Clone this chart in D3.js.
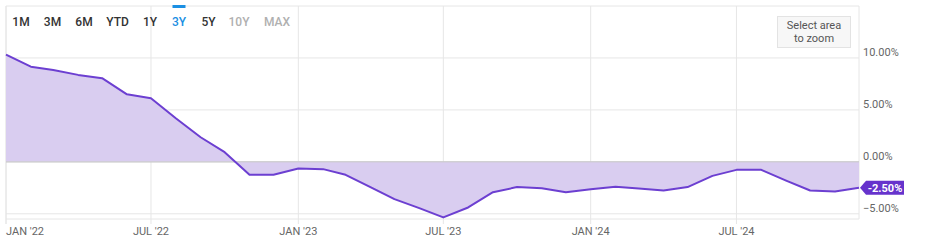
<!DOCTYPE html>
<html>
<head>
<meta charset="utf-8">
<script src="https://cdn.jsdelivr.net/npm/d3@7"></script>
<style>
  body { margin: 0; background: #fff; }
  svg { font-family: Roboto, "Noto Sans", sans-serif; }
</style>
</head>
<body>
<div id="chart"></div>
<script>
// monthly values, Jan 2022 .. Dec 2024
const months = [
    '2022-01','2022-02','2022-03','2022-04','2022-05','2022-06',
    '2022-07','2022-08','2022-09','2022-10','2022-11','2022-12',
    '2023-01','2023-02','2023-03','2023-04','2023-05','2023-06',
    '2023-07','2023-08','2023-09','2023-10','2023-11','2023-12',
    '2024-01','2024-02','2024-03','2024-04','2024-05','2024-06',
    '2024-07','2024-08','2024-09','2024-10','2024-11','2024-12'
];
const values = [
    10.32, 9.16, 8.85, 8.37, 8.05, 6.5,
    6.12, 4.2, 2.37, 0.93, -1.25, -1.25,
    -0.64, -0.7, -1.25, -2.43, -3.59, -4.45,
    -5.35, -4.39, -2.92, -2.43, -2.53, -2.92,
    -2.63, -2.4, -2.56, -2.76, -2.43, -1.35,
    -0.77, -0.77, -1.8, -2.76, -2.86, -2.5
];
const yTicks = [-5, 0, 5, 10];
const xTicks = ['2022-01','2022-07','2023-01','2023-07','2024-01','2024-07'];
const ranges = ['1M','3M','6M','YTD','1Y','3Y','5Y','10Y','MAX'];
const rangeCenters = [21, 52.5, 84, 117.5, 150, 179, 208.5, 239, 277];
const activeRange = '3Y';
const disabledRanges = ['10Y','MAX'];
const lastLabel = '-2.50%';

const width = 936;
const height = 244;
const margin = {top: 6, right: 77, bottom: 25, left: 6};

const parse = d3.timeParse('%Y-%m');
const data = months.map((m, i) => ({date: parse(m), value: values[i]}));

const svg = d3.select('#chart')
    .append('svg')
    .attr('width', width)
    .attr('height', height);

const x = d3.scaleUtc()
    .domain(d3.extent(data, d => d.date))
    .range([margin.left, width - margin.right]);
const y = d3.scaleLinear()
    .domain([-5.5, 15])
    .range([height - margin.bottom, margin.top]);

// frame + grid
svg.append('line')
    .attr('x1', margin.left).attr('x2', width - margin.right)
    .attr('y1', y(15)).attr('y2', y(15))
    .attr('stroke', '#e6e6e6');
svg.append('line')
    .attr('x1', width - margin.right).attr('x2', width - margin.right)
    .attr('y1', y(15)).attr('y2', y.range()[0])
    .attr('stroke', '#e6e6e6');
svg.append('line')
    .attr('x1', margin.left).attr('x2', margin.left)
    .attr('y1', y(15)).attr('y2', y.range()[0] + 5)
    .attr('stroke', '#e6e6e6');

svg.append('g')
    .selectAll('line')
    .data(xTicks.map(parse))
    .join('line')
        .attr('x1', d => x(d)).attr('x2', d => x(d))
        .attr('y1', y(15)).attr('y2', y.range()[0] + 5)
        .attr('stroke', '#e6e6e6');

svg.append('g')
    .selectAll('line')
    .data(yTicks)
    .join('line')
        .attr('x1', margin.left).attr('x2', width - margin.right)
        .attr('y1', d => y(d)).attr('y2', d => y(d))
        .attr('stroke', d => d === 0 ? '#cccccc' : '#e6e6e6');

// x axis line
svg.append('line')
    .attr('x1', margin.left).attr('x2', width - margin.right)
    .attr('y1', y.range()[0]).attr('y2', y.range()[0])
    .attr('stroke', '#e6e6e6');

// area + line
const area = d3.area()
    .x(d => x(d.date))
    .y0(y(0))
    .y1(d => y(d.value));
const line = d3.line()
    .x(d => x(d.date))
    .y(d => y(d.value));

svg.append('path')
    .datum(data)
    .attr('fill', '#d9cdf0')
    .attr('d', area);

// zero line drawn over area
svg.append('line')
    .attr('x1', margin.left).attr('x2', width - margin.right)
    .attr('y1', y(0)).attr('y2', y(0))
    .attr('stroke', '#cccccc');

svg.append('path')
    .datum(data)
    .attr('fill', 'none')
    .attr('stroke', '#6c3fd1')
    .attr('stroke-width', 2)
    .attr('stroke-linejoin', 'round')
    .attr('d', line);

// y labels
svg.append('g')
    .selectAll('text')
    .data(yTicks)
    .join('text')
        .attr('x', width - margin.right + 4)
        .attr('y', d => y(d) - 6)
        .attr('dy', '0.35em')
        .attr('font-size', 11)
        .attr('fill', '#666')
        .text(d => d3.format('.2f')(d) + '%');

// x labels, first one left aligned
const fmt = d3.utcFormat("%b '%y");
svg.append('g')
    .selectAll('text')
    .data(xTicks.map(parse))
    .join('text')
        .attr('x', d => x(d))
        .attr('y', 231)
        .attr('dy', '0.35em')
        .attr('text-anchor', (d, i) => i === 0 ? 'start' : 'middle')
        .attr('font-size', 11)
        .attr('fill', '#666')
        .text(d => fmt(d).toUpperCase());

// last value badge
const last = data[data.length - 1];
const bx = x(last.date) + 1;
const by = y(last.value);
svg.append('path')
    .attr('d', `M${bx},${by} L${bx + 6},${by - 7} H${bx + 44} V${by + 7} H${bx + 6} Z`)
    .attr('fill', '#6633cc');
svg.append('text')
    .attr('x', bx + 25)
    .attr('y', by)
    .attr('dy', '0.35em')
    .attr('text-anchor', 'middle')
    .attr('font-size', 11)
    .attr('font-weight', 'bold')
    .attr('fill', '#fff')
    .text(lastLabel);

// range selector
svg.append('g')
    .selectAll('text')
    .data(ranges)
    .join('text')
        .attr('x', (d, i) => rangeCenters[i])
        .attr('y', 22)
        .attr('dy', '0.35em')
        .attr('text-anchor', 'middle')
        .attr('font-size', 12)
        .attr('font-weight', 500)
        .attr('fill', d => d === activeRange ? '#1a8fe3'
            : disabledRanges.includes(d) ? '#b0b0b0' : '#333')
        .text(d => d);
const ai = ranges.indexOf(activeRange);
svg.append('rect')
    .attr('x', rangeCenters[ai] - 6.5).attr('y', 5)
    .attr('width', 13).attr('height', 3)
    .attr('fill', '#1a8fe3');

// zoom hint box
svg.append('rect')
    .attr('x', 777.5).attr('y', 16.5)
    .attr('width', 73).attr('height', 31)
    .attr('fill', '#f7f7f7')
    .attr('stroke', '#e3e3e3');
svg.append('text')
    .attr('x', 814).attr('y', 25)
    .attr('dy', '0.35em')
    .attr('text-anchor', 'middle')
    .attr('font-size', 11)
    .attr('fill', '#555')
    .text('Select area');
svg.append('text')
    .attr('x', 814).attr('y', 38)
    .attr('dy', '0.35em')
    .attr('text-anchor', 'middle')
    .attr('font-size', 11)
    .attr('fill', '#555')
    .text('to zoom');
</script>
</body>
</html>
